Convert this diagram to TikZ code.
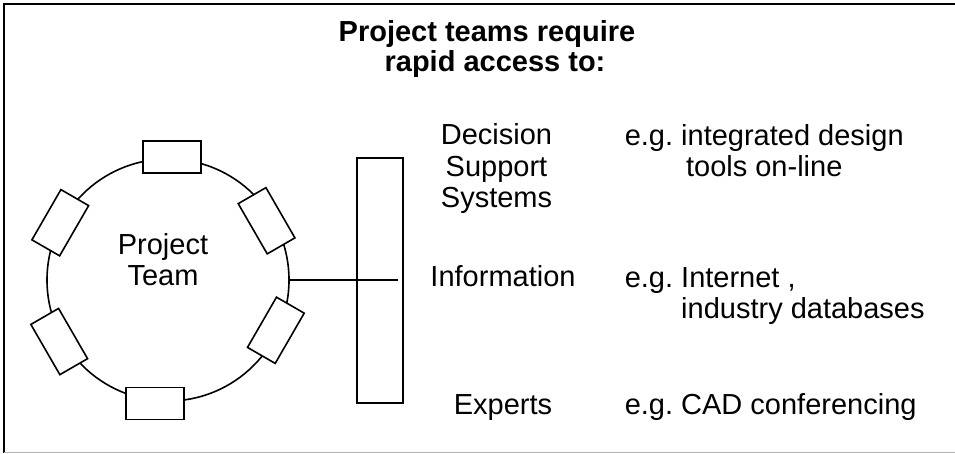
\documentclass[tikz,border=0pt]{standalone}
\usepackage{fontspec}
\setmainfont{Liberation Sans}

\begin{document}
\begin{tikzpicture}[x=1pt,y=1pt,line width=1.6pt,
  every node/.style={font=\fontsize{29}{31.5}\selectfont, inner sep=0pt},
  seat/.style={draw, fill=white, minimum width=58pt, minimum height=32pt},
  lbl/.style={anchor=base, align=center}]
\useasboundingbox (0,0) rectangle (955,454);

% Draw frame
\draw[line width=2pt] (955,450) -- (4,450) -- (4,1);
\draw[line width=1pt, black!30] (4,1) -- (955,1);

\node[lbl, font=\fontsize{29}{30}\selectfont\bfseries] (title) at (487,382)
  {Project teams require\\\hspace{16pt}rapid access to:};

% the team and its members
\node[draw, circle, minimum size=242pt] (team) at (168,174) {};
\node[lbl] (teamname) at (163,168) {Project\\Team};
\foreach \a/\r/\rot [count=\i] in {88/123/0, 31/115/-60, -25/119/60,
    264/124/0, 209.5/125/-60, 152/122/60}
  \node[seat, rotate=\rot] (m\i) at ([shift={(\a:\r pt)}]team.center) {};

% Draw the bar
\node[draw, minimum width=46pt, minimum height=245pt] (bar) at (380,173.5) {};
\coordinate (tap) at (398,174);
\draw (team.east) -- (tap);

\node[lbl] (dss) at (496.5,246) {Decision\\Support\\Systems};
\node[lbl] (info) at (503,167) {Information};
\node[lbl] (experts) at (503,39) {Experts};

\node[lbl, anchor=base west] (ex1) at (624,277) {e.g.\ integrated design\\tools on-line};
\node[lbl, anchor=base west, align=left] (ex2) at (624,135)
  {e.g.\ Internet ,\\\phantom{e.g.\ }industry databases};
\node[lbl, anchor=base west] (ex3) at (624,39) {e.g.\ CAD conferencing};

\end{tikzpicture}
\end{document}
